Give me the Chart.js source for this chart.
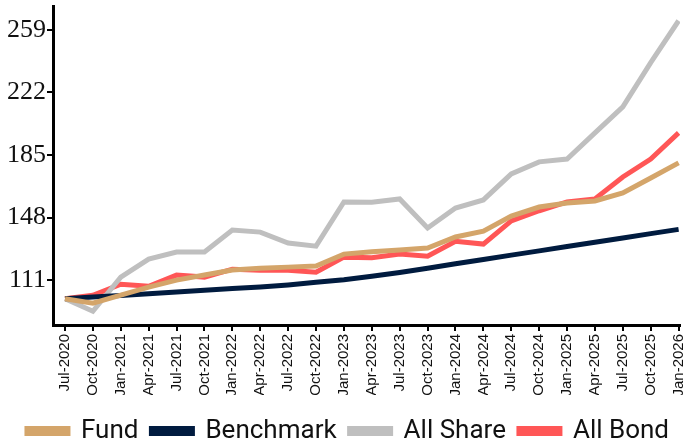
<!DOCTYPE html>
<html>
<head>
<meta charset="utf-8">
<script src="https://cdn.jsdelivr.net/npm/chart.js@4/dist/chart.umd.min.js"></script>
<style>
html,body{margin:0;padding:0;background:#fff;}
#wrap{width:685px;height:444px;}
</style>
</head>
<body>
<div id="wrap"><canvas id="c" width="685" height="444"></canvas></div>
<script>
const categories = ["Jul-2020","Oct-2020","Jan-2021","Apr-2021","Jul-2021","Oct-2021","Jan-2022","Apr-2022","Jul-2022","Oct-2022","Jan-2023","Apr-2023","Jul-2023","Oct-2023","Jan-2024","Apr-2024","Jul-2024","Oct-2024","Jan-2025","Apr-2025","Jul-2025","Oct-2025","Jan-2026"];
const fund = [100, 97.4, 102.1, 106.9, 111, 114, 117, 118, 118.7, 119.3, 126.4, 127.8, 128.8, 130, 136.5, 140, 148.9, 154.2, 156.6, 157.8, 162.5, 171.4, 180.3];
const benchmark = [100, 101, 102, 103, 104, 105, 106, 107, 108.2, 109.7, 111.3, 113.3, 115.5, 118, 120.7, 123.2, 125.8, 128.3, 130.9, 133.4, 135.9, 138.5, 141];
const allShare = [100, 92.6, 112.8, 123.4, 127.6, 127.6, 140.6, 139.4, 132.9, 131.1, 157.2, 157, 159, 141.8, 153.6, 158.4, 173.8, 180.9, 182.6, 198, 213.4, 239.5, 264.3];
const allBond = [100, 102.1, 108.6, 107.4, 114, 112.8, 117.5, 116.9, 116.9, 115.7, 124.6, 124.2, 126.4, 125.2, 134, 132.3, 146, 152, 157.2, 159, 172, 182.6, 198];
const yTicks = [111, 148, 185, 222, 259];

const toXY = arr => arr.map((v, i) => ({x: i, y: v}));
const mk = (label, data, color) => ({
  label, data: toXY(data), borderColor: color, backgroundColor: color,
  borderWidth: 5, pointRadius: 0, tension: 0, fill: false,
  borderCapStyle: 'butt', borderJoinStyle: 'miter'
});

const legendShift = {
  id: 'legendShift',
  afterLayout(chart) {
    const lg = chart.legend;
    if (lg) { lg.top += 10; lg.bottom += 10; lg.left += 8; lg.right += 8; }
  }
};

new Chart(document.getElementById('c'), {
  type: 'line',
  data: {
    datasets: [
      mk('Fund', fund, '#D4A56A'),
      mk('Benchmark', benchmark, '#001B3F'),
      mk('All Share', allShare, '#BFBFBF'),
      mk('All Bond', allBond, '#FF5656')
    ]
  },
  plugins: [legendShift],
  options: {
    responsive: false,
    animation: false,
    layout: {padding: {top: 6, right: 5, left: 0, bottom: 0}},
    plugins: {
      tooltip: {enabled: false},
      legend: {
        position: 'bottom',
        labels: {
          font: {family: "Roboto", size: 26},
          color: '#111',
          boxWidth: 41,
          boxHeight: 5,
          padding: 13
        }
      }
    },
    scales: {
      x: {
        type: 'linear',
        min: -0.43,
        max: 22.05,
        afterBuildTicks: s => { s.ticks = categories.map((c, i) => ({value: i})); },
        afterFit: s => { s.paddingLeft = 0; s.paddingRight = 0; s.height = 70; },
        ticks: {
          autoSkip: false,
          maxRotation: 90, minRotation: 90,
          font: {family: "'Liberation Sans', Arial, sans-serif", size: 15},
          color: '#111',
          padding: 3,
          callback: (v) => categories[v]
        },
        grid: {display: true, drawOnChartArea: false, drawTicks: true, tickLength: 6, color: '#000', lineWidth: 2},
        border: {display: true, color: '#000', width: 3}
      },
      y: {
        min: 84.5,
        max: 273,
        afterBuildTicks: s => { s.ticks = yTicks.map(v => ({value: v})); },
        afterFit: s => { s.width = 53; s.paddingTop = 0; s.paddingBottom = 0; },
        ticks: {
          font: {family: "'Liberation Serif', 'Times New Roman', serif", size: 26},
          color: '#111',
          padding: 1
        },
        grid: {display: true, drawOnChartArea: false, drawTicks: true, tickLength: 6, color: '#000', lineWidth: 2},
        border: {display: true, color: '#000', width: 3}
      }
    }
  }
});
</script>
</body>
</html>
